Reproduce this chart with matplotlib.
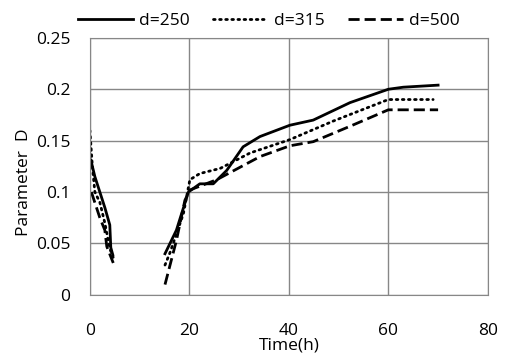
import matplotlib.pyplot as plt
import numpy as np

plt.rcParams['font.family'] = ['Open Sans', 'DejaVu Sans']

# d=250 (solid)
t_250_a = [0.2, 1, 2, 3, 4, 4.2, 4.6]
D_250_a = [0.131, 0.115, 0.100, 0.085, 0.068, 0.046, 0.039]
t_250_b = [15.1, 17.4, 19.8, 22.1, 24.8, 27.5, 30.8, 34.2, 40.2, 44.9, 52.3, 60, 63, 70]
D_250_b = [0.040, 0.063, 0.100, 0.108, 0.108, 0.121, 0.144, 0.154, 0.165, 0.170, 0.187, 0.200, 0.202, 0.204]

# d=315 (dotted)
t_315_a = [0, 0.5, 1, 2, 3, 4, 4.8]
D_315_a = [0.160, 0.125, 0.100, 0.090, 0.070, 0.045, 0.035]
t_315_b = [15.1, 16.1, 18.8, 20.1, 22.1, 26.2, 32.2, 40.2, 48.9, 60, 69]
D_315_b = [0.029, 0.041, 0.079, 0.112, 0.118, 0.123, 0.138, 0.151, 0.169, 0.190, 0.190]

# d=500 (dashed)
t_500_a = [0.3, 2, 3, 3.4, 4.7]
D_500_a = [0.100, 0.075, 0.063, 0.047, 0.031]
t_500_b = [15.1, 17.4, 19.1, 20.1, 25.5, 34.2, 40.2, 44.9, 52.3, 60, 70]
D_500_b = [0.010, 0.053, 0.092, 0.102, 0.112, 0.1345, 0.145, 0.149, 0.164, 0.180, 0.180]

fig = plt.figure(figsize=(5.05, 3.64), dpi=100)
ax = fig.add_axes([0.178, 0.19, 0.788, 0.706])

lw = 2.0
ax.plot(t_250_a, D_250_a, color='black', lw=lw, label='d=250')
ax.plot(t_250_b, D_250_b, color='black', lw=lw)
ax.plot(t_315_a, D_315_a, color='black', lw=lw, ls=(0, (0.6, 1.6)), dash_capstyle='round', label='d=315')
ax.plot(t_315_b, D_315_b, color='black', lw=lw, ls=(0, (0.6, 1.6)), dash_capstyle='round')
ax.plot(t_500_a, D_500_a, color='black', lw=lw, ls=(0, (4, 1.8)), label='d=500')
ax.plot(t_500_b, D_500_b, color='black', lw=lw, ls=(0, (4, 1.8)))

ax.set_xlim(0, 80)
ax.set_ylim(0, 0.25)
ax.set_xticks([0, 20, 40, 60, 80])
ax.set_yticks([0, 0.05, 0.1, 0.15, 0.2, 0.25])
ax.set_yticklabels(['0', '0.05', '0.1', '0.15', '0.2', '0.25'])
ax.grid(True, color='#878787', lw=1)
ax.set_axisbelow(True)
for s in ax.spines.values():
    s.set_color('#878787')
ax.tick_params(length=0, labelsize=12.5)
ax.tick_params(axis='x', pad=20)
ax.tick_params(axis='y', pad=14)

ax.set_xlabel('Time(h)', fontsize=12.5, labelpad=-1)
ax.set_ylabel('Parameter  D', fontsize=12.5, labelpad=10)
ax.yaxis.set_label_coords(-0.145, 0.44)

ax.legend(loc='lower center', bbox_to_anchor=(0.45, 1.0), ncol=3, frameon=False,
          fontsize=12.5, handlelength=3.2, columnspacing=1.3, handletextpad=0.35,
          borderaxespad=0.1)

fig.savefig('out.png', dpi=100)
